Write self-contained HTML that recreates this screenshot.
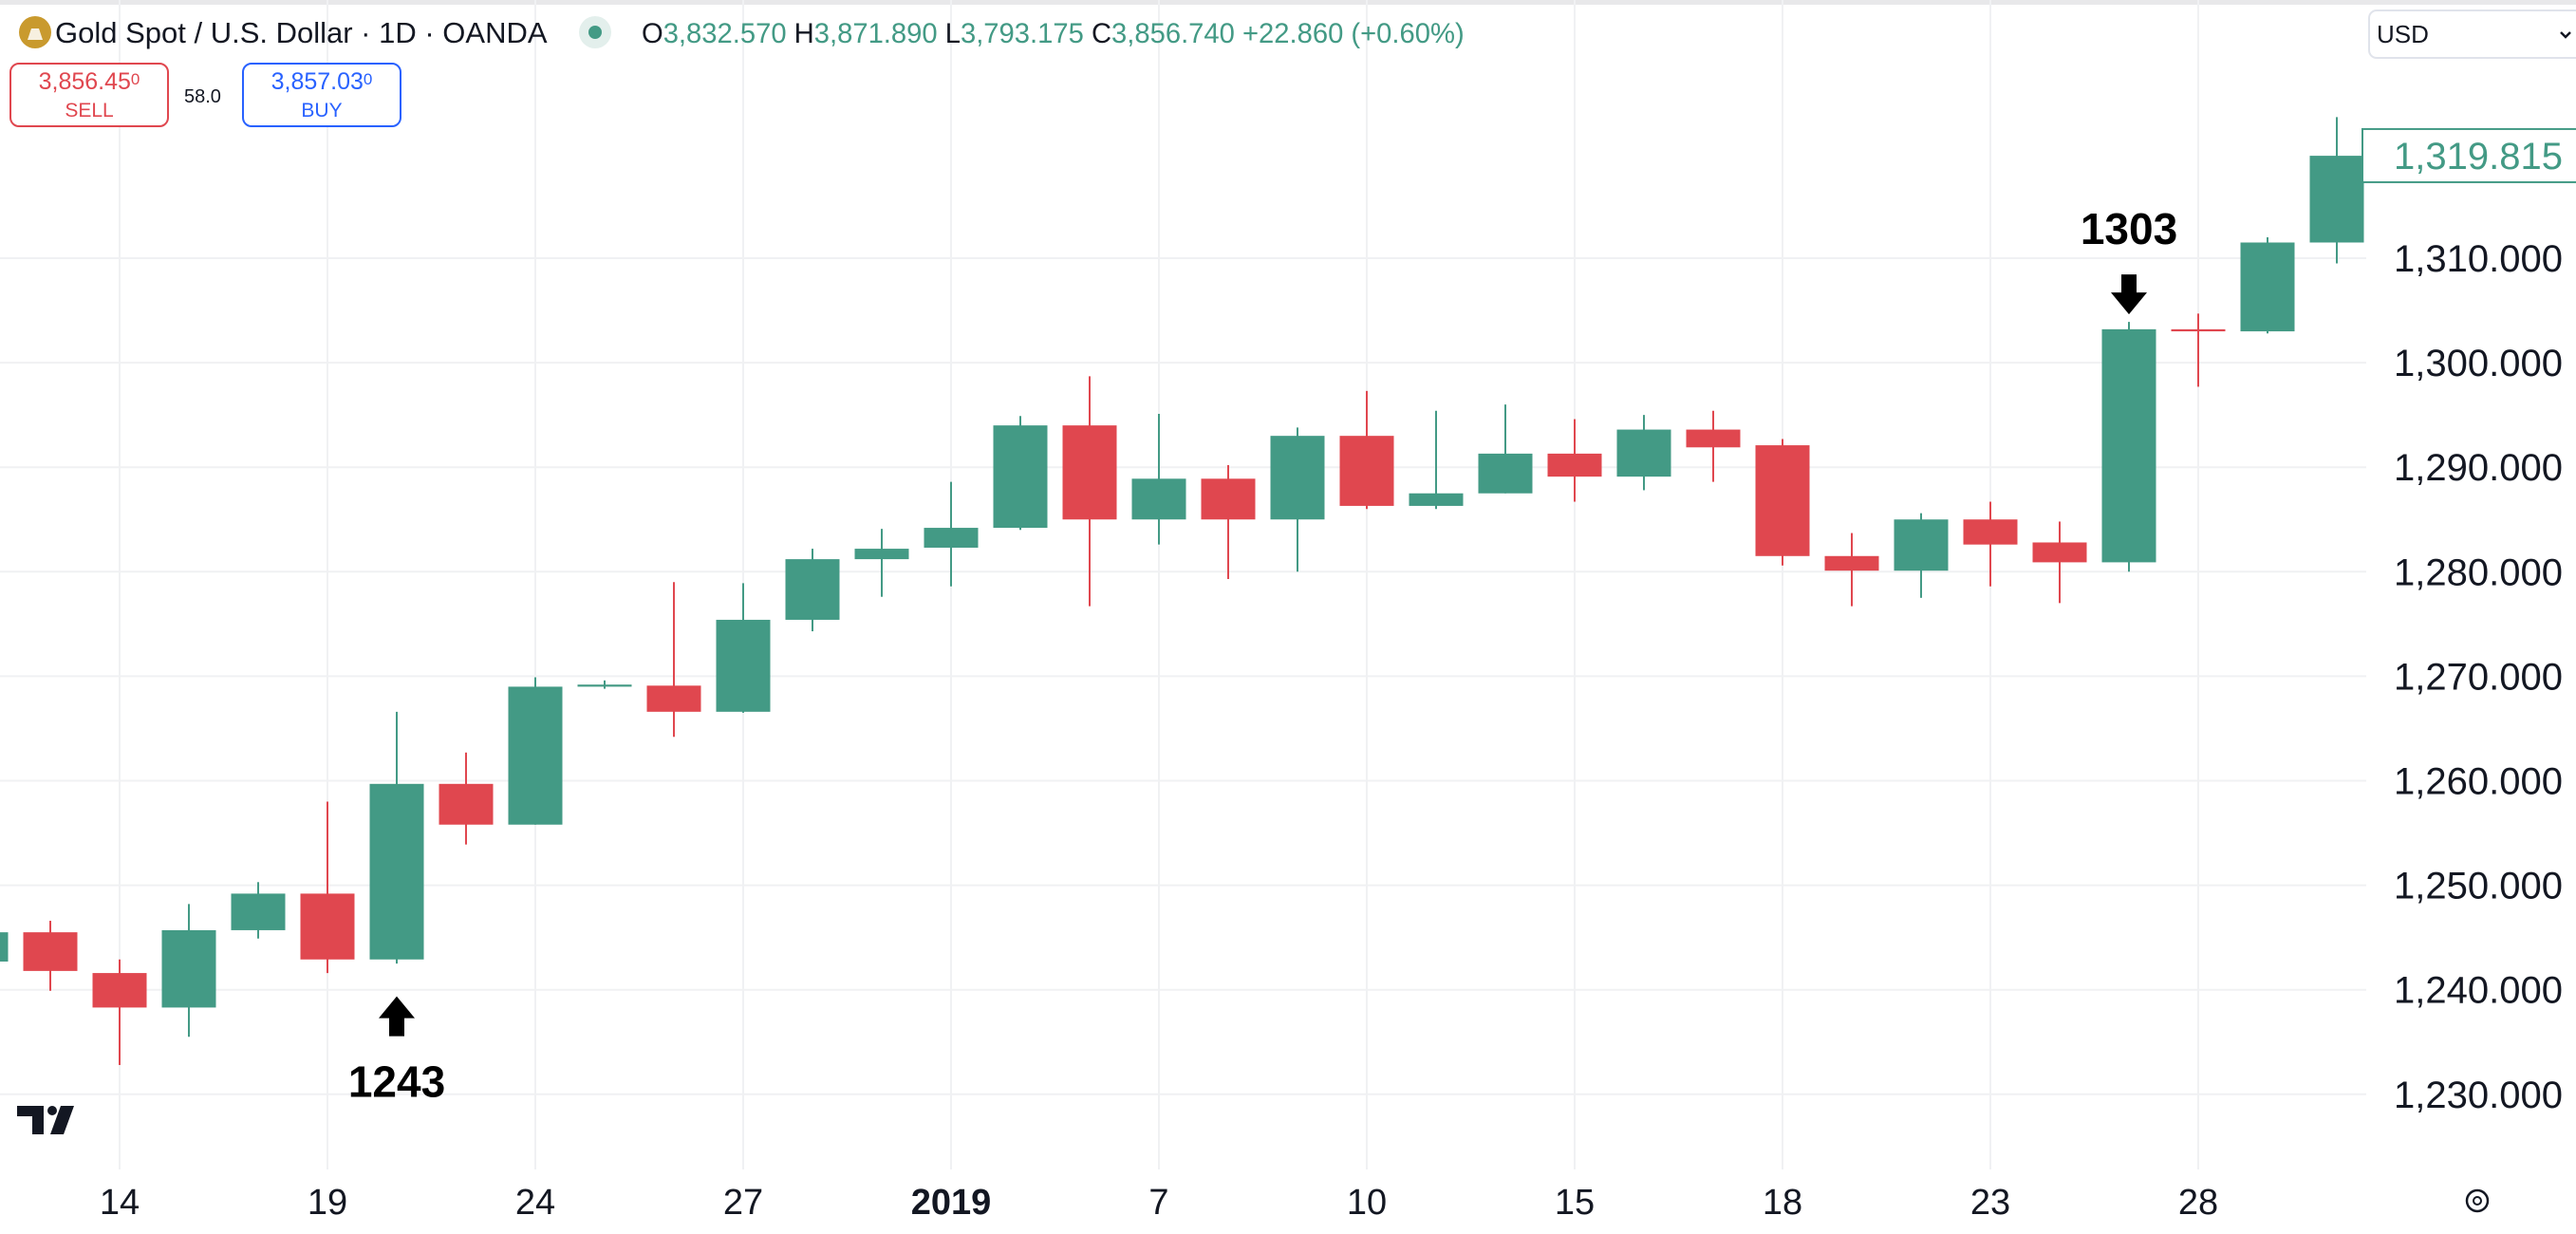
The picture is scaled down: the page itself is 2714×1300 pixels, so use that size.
<!DOCTYPE html>
<html><head><meta charset="utf-8"><style>
html,body{margin:0;padding:0;background:#fff;width:2714px;height:1300px;overflow:hidden;font-family:"Liberation Sans",sans-serif}
svg text{font-family:"Liberation Sans",sans-serif}
</style></head><body>
<svg id="chart" width="2714" height="1300" viewBox="0 0 2714 1300" xmlns="http://www.w3.org/2000/svg">
<rect x="0" y="0" width="2714" height="5" fill="#e8e8ea"/>
<g id="grid"></g>
<g id="candles"></g>
<g id="yaxis"></g>
<g id="xaxis"></g>
<g>
  <circle cx="37" cy="34" r="17" fill="#c99a2e"/>
  <path d="M29 42 L33 30 L41 30 L45 42 Z" fill="#fff" opacity="0.85"/>
  <text x="58" y="45" font-size="31" fill="#131722">Gold Spot / U.S. Dollar · 1D · OANDA</text>
  <circle cx="627" cy="34" r="17" fill="#e3efec"/>
  <circle cx="627" cy="34" r="7" fill="#439a85"/>
  <text x="676" y="45" font-size="29.2" fill="#439a85"><tspan fill="#131722">O</tspan>3,832.570 <tspan fill="#131722">H</tspan>3,871.890 <tspan fill="#131722">L</tspan>3,793.175 <tspan fill="#131722">C</tspan>3,856.740 +22.860 (+0.60%)</text>
</g>
<g>
  <rect x="11" y="67" width="166" height="66" rx="9" fill="#fff" stroke="#e0474f" stroke-width="2"/>
  <text x="94" y="94" font-size="25" fill="#e0474f" text-anchor="middle">3,856.45<tspan font-size="17" dy="-5">0</tspan></text>
  <text x="94" y="123" font-size="21" fill="#e0474f" text-anchor="middle">SELL</text>
</g>
<text x="194" y="108" font-size="20" fill="#131722">58.0</text>
<g>
  <rect x="256" y="67" width="166" height="66" rx="9" fill="#fff" stroke="#2962ff" stroke-width="2"/>
  <text x="339" y="94" font-size="25" fill="#2962ff" text-anchor="middle">3,857.03<tspan font-size="17" dy="-5">0</tspan></text>
  <text x="339" y="123" font-size="21" fill="#2962ff" text-anchor="middle">BUY</text>
</g>
<g>
  <rect x="2496" y="11" width="230" height="50" rx="8" fill="#fff" stroke="#e0e3eb" stroke-width="2"/>
  <text x="2504" y="45" font-size="26" fill="#131722">USD</text>
  <path d="M2698 34 l5 5 l5 -5" fill="none" stroke="#131722" stroke-width="2.5"/>
</g>
<g>
  <path d="M18 1165 H46 V1195 H34 V1176 H18 Z" fill="#131722"/>
  <circle cx="55" cy="1170" r="5" fill="#131722"/>
  <path d="M64 1165 H78 L67 1195 H53 Z" fill="#131722"/>
</g>
<g id="ann1"></g>
<g id="ann2"></g>
<g>
  <circle cx="2610" cy="1265" r="11" fill="none" stroke="#131722" stroke-width="2.5"/>
  <circle cx="2610" cy="1265" r="4" fill="none" stroke="#131722" stroke-width="2"/>
</g>
</svg>
<script>
const opens =  [1242.7,1245.5,1241.6,1238.3,1245.7,1249.2,1242.9,1259.7,1255.8,1269.0,1269.1,1266.6,1275.4,1281.2,1282.3,1284.2,1294.0,1285.0,1288.9,1285.0,1293.0,1286.3,1287.5,1291.3,1289.1,1293.6,1292.1,1281.5,1280.1,1285.0,1282.8,1280.9,1303.2,1303.0,1311.5];
const closes = [1245.5,1241.8,1238.3,1245.7,1249.2,1242.9,1259.7,1255.8,1269.0,1269.2,1266.6,1275.4,1281.2,1282.2,1284.2,1294.0,1285.0,1288.9,1285.0,1293.0,1286.3,1287.5,1291.3,1289.1,1293.6,1291.9,1281.5,1280.1,1285.0,1282.6,1280.9,1303.2,1303.0,1311.5,1319.8];
const highs =  [1246.0,1246.6,1242.9,1248.2,1250.3,1258.0,1266.6,1262.7,1269.9,1269.6,1279.0,1278.9,1282.2,1284.1,1288.6,1294.9,1298.7,1295.1,1290.2,1293.8,1297.3,1295.4,1296.0,1294.6,1295.0,1295.4,1292.7,1283.7,1285.6,1286.7,1284.8,1303.9,1304.7,1312.0,1323.5];
const lows =   [1242.0,1239.9,1232.8,1235.5,1244.9,1241.6,1242.5,1253.9,1255.8,1268.8,1264.2,1266.5,1274.3,1277.6,1278.6,1284.0,1276.7,1282.6,1279.3,1280.0,1286.0,1286.0,1287.5,1286.7,1287.8,1288.6,1280.6,1276.7,1277.5,1278.6,1277.0,1280.0,1297.7,1302.8,1309.5];
const priceTicks = [1230,1240,1250,1260,1270,1280,1290,1300,1310];
const priceTickLabels = ["1,230.000","1,240.000","1,250.000","1,260.000","1,270.000","1,280.000","1,290.000","1,300.000","1,310.000"];
const timeTickIndex = [2,5,8,11,14,17,20,23,26,29,32];
const timeTickLabels = ["14","19","24","27","2019","7","10","15","18","23","28"];
const lastPrice = 1319.815;
const lowMark = 1243, highMark = 1303;
const lowMarkIndex = 6, highMarkIndex = 31;

const NS="http://www.w3.org/2000/svg";
function y(p){return 272+(1310-p)*11.01;}
function x(i){return 126+(i-2)*73;}
function mk(tag,attrs,parent){const e=document.createElementNS(NS,tag);for(const k in attrs)e.setAttribute(k,attrs[k]);parent.appendChild(e);return e;}
const grid=document.getElementById('grid'),cg=document.getElementById('candles'),ya=document.getElementById('yaxis'),xa=document.getElementById('xaxis');
priceTicks.forEach((p,k)=>{
  const l=mk('line',{x1:0,x2:2493,y1:y(p),y2:y(p),stroke:'#f0f1f3','stroke-width':2},grid);
  
  
  const t=mk('text',{x:2700,y:y(p)+14,'font-size':40,fill:'#131722','text-anchor':'end'},ya);
  t.textContent=priceTickLabels[k];
  
  
});
timeTickIndex.forEach((i,k)=>{
  const l=mk('line',{x1:x(i),x2:x(i),y1:0,y2:1232,stroke:'#f0f1f3','stroke-width':2},grid);
  
  
  const t=mk('text',{x:x(i),y:1279,'font-size':38,fill:'#131722','text-anchor':'middle','font-weight':timeTickLabels[k]==='2019'?'bold':'normal'},xa);
  t.textContent=timeTickLabels[k];
  
  
});
opens.forEach((o,i)=>{
  const c=closes[i],up=c>=o,col=up?'#439a85':'#e0474f',cx=x(i);
  const g=mk('g',{},cg);
  
  
  mk('line',{x1:cx,x2:cx,y1:y(highs[i]),y2:y(lows[i]),stroke:col,'stroke-width':2},g);
  const top=y(Math.max(o,c)),h=Math.max(2,Math.abs(y(o)-y(c)));
  mk('rect',{x:cx-28.5,y:top,width:57,height:h,fill:col},g);
});
const lp=mk('rect',{x:2489,y:y(lastPrice)-28,width:230,height:56,fill:'#fff',stroke:'#439a85','stroke-width':2},ya);


const lpt=mk('text',{x:2700,y:y(lastPrice)+14,'font-size':40,fill:'#439a85','text-anchor':'end'},ya);
lpt.textContent='1,319.815';


const a1=document.getElementById('ann1'),ax1=x(lowMarkIndex),ay1=y(lowMark)+40;
mk('path',{d:`M${ax1} ${ay1} l-19 23 h11 v19 h16 v-19 h11 Z`,fill:'#000'},a1);
const t1=mk('text',{x:ax1,y:ay1+106,'font-size':46,'font-weight':'bold',fill:'#000','text-anchor':'middle'},a1);
t1.textContent=String(lowMark);
const a2=document.getElementById('ann2'),ax2=x(highMarkIndex),ay2=y(highMark)-18;
mk('path',{d:`M${ax2} ${ay2} l-19 -23 h11 v-19 h16 v19 h11 Z`,fill:'#000'},a2);
const t2=mk('text',{x:ax2,y:ay2-74,'font-size':46,'font-weight':'bold',fill:'#000','text-anchor':'middle'},a2);
t2.textContent=String(highMark);
</script>
</body></html>
